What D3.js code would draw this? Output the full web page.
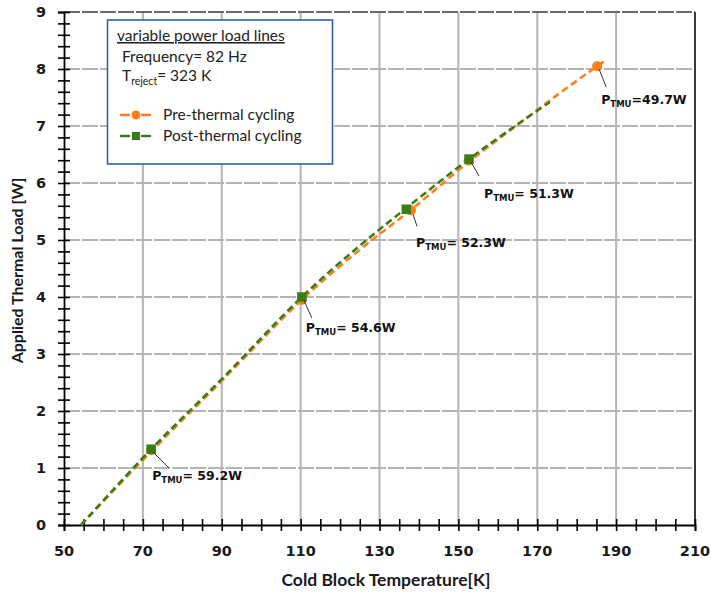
<!DOCTYPE html>
<html><head><meta charset="utf-8">
<script src="https://cdn.jsdelivr.net/npm/d3@7"></script>
<style>
html,body{margin:0;padding:0;background:#fff;}
svg{display:block;}
</style></head>
<body>
<svg id="chart" width="711" height="593"></svg>
<script>
// ---- data ----
const xTicks = [50, 70, 90, 110, 130, 150, 170, 190, 210];
const yTicks = [0, 1, 2, 3, 4, 5, 6, 7, 8, 9];

const preT = [72.1, 110.3, 138.0, 152.6, 185.2];
const preQ = [1.31, 3.95, 5.52, 6.39, 8.05];
const postT = [72.1, 110.3, 136.8, 152.7];
const postQ = [1.33, 4.00, 5.54, 6.42];

const preTrendT = [54.3, 72.1, 90, 110.3, 125, 138.0, 152.6, 165, 174.6, 185.2, 187.3];
const preTrendQ = [0, 1.29, 2.53, 3.95, 4.83, 5.53, 6.37, 7.02, 7.52, 8.05, 8.15];
const postTrendT = [54.3, 72.1, 90, 110.3, 125, 136.8, 152.7, 165, 173.2];
const postTrendQ = [0, 1.33, 2.56, 4.00, 4.90, 5.56, 6.42, 7.03, 7.42];

const annotT = [72.1, 110.3, 138.0, 152.7, 185.2];
const annotQ = [1.33, 4.00, 5.50, 6.42, 8.05];
const annotVal = ["59.2W", "54.6W", "52.3W", "51.3W", "49.7W"];
const annotSep = ["= ", "= ", "= ", "= ", "="];

const seriesNames = ["Pre-thermal cycling", "Post-thermal cycling"];
const colors = ["#ff7f1e", "#3a7d16"];

// ---- layout (pixel offsets of annotation leaders / labels) ----
const leadDX = [18, 10, 6, 10, 9], leadDY = [19, 21, 15, 17, 21];
const labDX = [1, 4, 5, 15, 4], labDY = [31, 35, 35, 39, 38];

const svg = d3.select("#chart");
const L = 64, R = 695, T = 12, B = 525;
const x = d3.scaleLinear().domain([50, 210]).range([L, R]);
const y = d3.scaleLinear().domain([0, 9]).range([B, T]);

// gridlines
const g = svg.append("g");
g.selectAll(".vg").data(xTicks.filter(v => v > 50 && v < 210)).join("line")
  .attr("x1", d => x(d)).attr("x2", d => x(d)).attr("y1", T).attr("y2", B)
  .attr("stroke", "#b4b4b4").attr("stroke-width", 2);
g.selectAll(".hg").data(yTicks.filter(v => v > 0 && v < 9)).join("line")
  .attr("x1", L).attr("x2", R).attr("y1", d => y(d)).attr("y2", d => y(d))
  .attr("stroke", "#b4b4b4").attr("stroke-width", 2).attr("stroke-dasharray", "16,2");
g.append("line").attr("x1", L).attr("x2", R).attr("y1", y(9)).attr("y2", y(9))
  .attr("stroke", "#6a6a6a").attr("stroke-width", 2).attr("stroke-dasharray", "16,2");
g.append("line").attr("x1", x(210)).attr("x2", x(210)).attr("y1", T).attr("y2", B)
  .attr("stroke", "#3a3a3a").attr("stroke-width", 2);

// axes
const xAxis = d3.axisBottom(x).tickValues(d3.range(50, 211, 5)).tickSize(6).tickFormat("");
const yAxis = d3.axisLeft(y).tickValues(d3.range(0, 9.01, 0.2)).tickSize(6).tickFormat("");
const gx = svg.append("g").attr("transform", `translate(0,${B})`).call(xAxis);
const gy = svg.append("g").attr("transform", `translate(${L},0)`).call(yAxis);
[gx, gy].forEach(a => {
  a.select(".domain").attr("stroke", "#000").attr("stroke-width", 1.8);
  a.selectAll(".tick line").attr("stroke", "#000").attr("stroke-width", 1.6);
});
gx.selectAll(".tick line").attr("y1", -6).attr("y2", 6);
gy.selectAll(".tick line").attr("x1", 6).attr("x2", -6);

// tick labels
svg.append("g").selectAll("text").data(xTicks).join("text")
  .attr("x", d => x(d)).attr("y", B + 31).attr("text-anchor", "middle")
  .attr("font-family", "DejaVu Sans").attr("font-weight", "bold").attr("font-size", 14.5)
  .attr("fill", "#1a1a1a").text(d => d);
svg.append("g").selectAll("text").data(yTicks).join("text")
  .attr("x", L - 18).attr("y", d => y(d) + 5).attr("text-anchor", "end")
  .attr("font-family", "DejaVu Sans").attr("font-weight", "bold").attr("font-size", 14.5)
  .attr("fill", "#1a1a1a").text(d => d);

// axis titles
svg.append("text").attr("x", 386).attr("y", 586).attr("text-anchor", "middle")
  .attr("font-family", "Lato").attr("font-weight", "bold").attr("font-size", 17.5)
  .attr("fill", "#1a1a1a").text("Cold Block Temperature[K]");
svg.append("text").attr("transform", `translate(23,${(T + B) / 2 + 2}) rotate(-90)`)
  .attr("text-anchor", "middle")
  .attr("font-family", "Lato").attr("font-weight", "bold").attr("font-size", 16)
  .attr("fill", "#1a1a1a").text("Applied Thermal Load [W]");

// trend lines
const line = d3.line().curve(d3.curveCatmullRom.alpha(0.5));
const preLine = preTrendT.map((t, i) => [x(t), y(preTrendQ[i])]);
const postLine = postTrendT.map((t, i) => [x(t), y(postTrendQ[i])]);
svg.append("path").attr("d", line(preLine)).attr("fill", "none")
  .attr("stroke", colors[0]).attr("stroke-width", 2.6).attr("stroke-dasharray", "7,4");
svg.append("path").attr("d", line(postLine)).attr("fill", "none")
  .attr("stroke", colors[1]).attr("stroke-width", 2.6).attr("stroke-dasharray", "7,4");

// markers
svg.append("g").selectAll("circle").data(preT).join("circle")
  .attr("cx", d => x(d)).attr("cy", (d, i) => y(preQ[i])).attr("r", 5)
  .attr("fill", colors[0]);
const sq = 9.5;
svg.append("g").selectAll("rect").data(postT).join("rect")
  .attr("x", d => x(d) - sq / 2).attr("y", (d, i) => y(postQ[i]) - sq / 2)
  .attr("width", sq).attr("height", sq).attr("fill", colors[1]);

// annotations
const ann = svg.append("g");
annotT.forEach((t, i) => {
  const px = x(t), py = y(annotQ[i]);
  ann.append("line").attr("x1", px + 2).attr("y1", py + 3)
    .attr("x2", px + leadDX[i]).attr("y2", py + leadDY[i])
    .attr("stroke", "#333").attr("stroke-width", 1);
  const tx = ann.append("text").attr("x", px + labDX[i]).attr("y", py + labDY[i])
    .attr("font-family", "DejaVu Sans").attr("font-weight", "bold").attr("font-size", 12.5)
    .attr("fill", "#111");
  tx.append("tspan").text("P");
  tx.append("tspan").attr("dy", 3).attr("font-size", 8.5).text("TMU");
  tx.append("tspan").attr("dy", -3).text(annotSep[i] + annotVal[i]);
});

// legend box
const lg = svg.append("g");
lg.append("rect").attr("x", 107.5).attr("y", 20).attr("width", 225).attr("height", 144)
  .attr("fill", "#fff").attr("stroke", "#2f64a8").attr("stroke-width", 1.6);
const lf = "Lato", ls = 15.5;
lg.append("text").attr("x", 117).attr("y", 41).attr("font-family", lf).attr("font-size", ls)
  .attr("fill", "#222").style("text-decoration", "underline").text("variable power load lines");
lg.append("text").attr("x", 122).attr("y", 62).attr("font-family", lf).attr("font-size", ls)
  .attr("fill", "#222").text("Frequency= 82 Hz");
const tr = lg.append("text").attr("x", 122).attr("y", 81).attr("font-family", lf).attr("font-size", ls)
  .attr("fill", "#222");
tr.append("tspan").text("T");
tr.append("tspan").attr("dy", 4).attr("font-size", 10.5).text("reject");
tr.append("tspan").attr("dy", -4).text("= 323 K");

const legY = [115, 136];
seriesNames.forEach((name, i) => {
  const yy = legY[i];
  lg.append("line").attr("x1", 120).attr("x2", 152).attr("y1", yy).attr("y2", yy)
    .attr("stroke", colors[i]).attr("stroke-width", 2.6).attr("stroke-dasharray", "10,11");
  if (i === 0) {
    lg.append("circle").attr("cx", 136).attr("cy", yy).attr("r", 4.5).attr("fill", colors[0]);
  } else {
    lg.append("rect").attr("x", 132).attr("y", yy - 4).attr("width", 8).attr("height", 8).attr("fill", colors[1]);
  }
  lg.append("text").attr("x", 163).attr("y", yy + 5).attr("font-family", lf).attr("font-size", ls)
    .attr("fill", "#222").text(name);
});
</script>
</body></html>
